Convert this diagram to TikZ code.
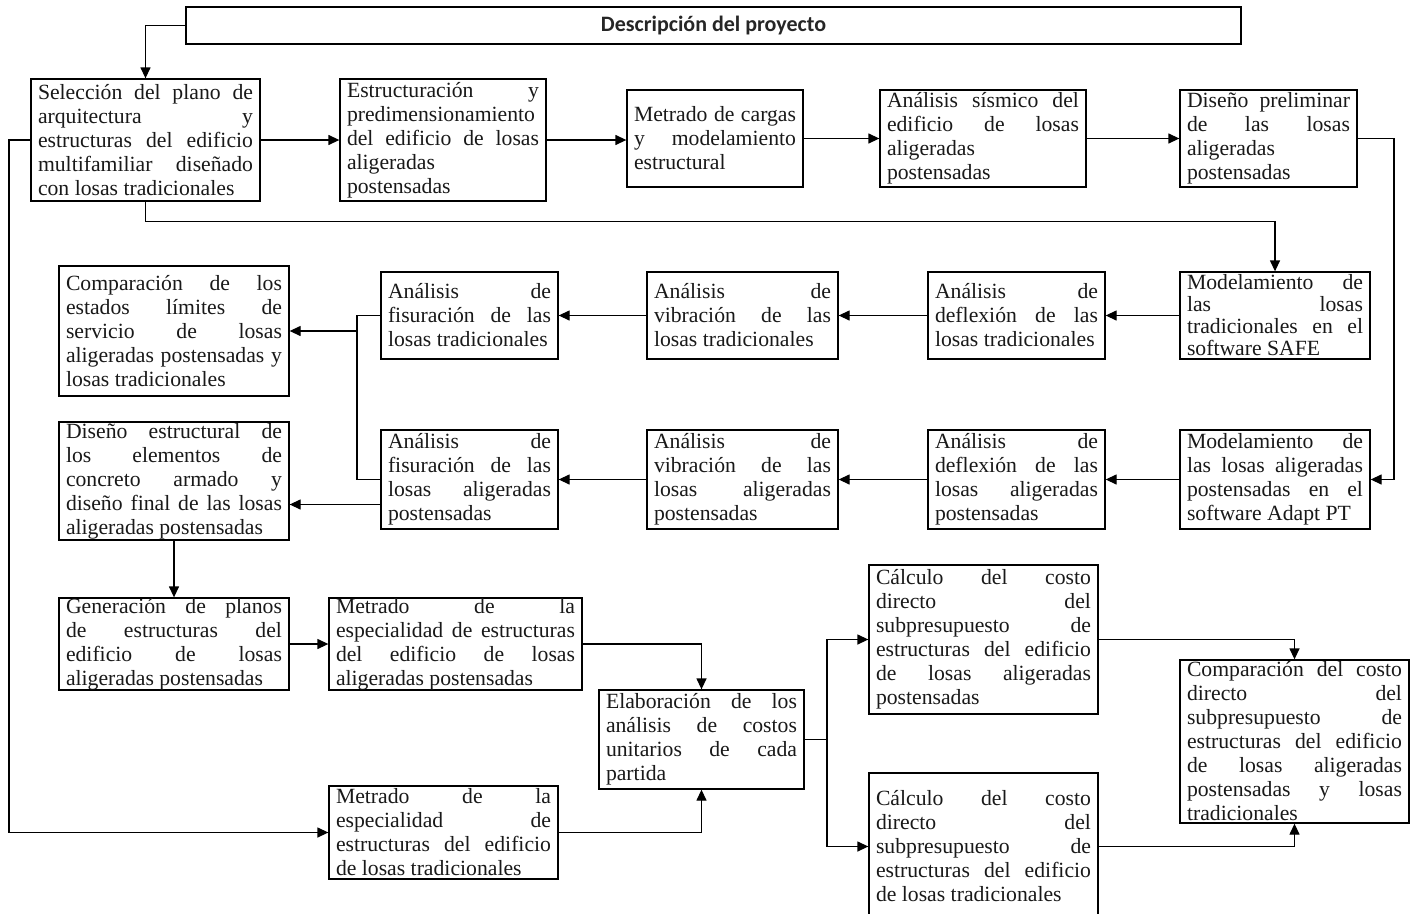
\documentclass[tikz,border=0pt]{standalone}
\usepackage{fontspec}
\setmainfont{Liberation Serif}
\newfontfamily\titlefont{Carlito}
\usetikzlibrary{arrows.meta,calc}
\newcommand\bxfont{\fontsize{21.7}{24}\selectfont\hyphenpenalty=10000 \tolerance=10000 \hbadness=10000 }
\newcommand\bxfonttight{\fontsize{21.7}{22}\selectfont\hyphenpenalty=10000 \tolerance=10000 \hbadness=10000 }
\begin{document}
\begin{tikzpicture}[x=1pt,y=-1pt,
  bx/.style={draw, line width=1.3pt, inner xsep=7pt, inner ysep=0pt, align=justify, font=\bxfont, anchor=center, text=black!90},
  arr/.style={line width=1.3pt, -{Triangle[length=11pt,width=10pt]}},
  ln/.style={line width=1.3pt}]
\fill[white] (0,0) rectangle (1419,913);
\useasboundingbox (0,0) rectangle (1419,913);

\node[draw, line width=1.3pt, minimum width=1055pt, minimum height=37pt, inner sep=0pt, font=\titlefont\bfseries\fontsize{22}{24}\selectfont, text=black!85] (T) at (713.5,25.5) {Descripción del proyecto};

% Row 1
\node[bx, minimum width=229pt, minimum height=122pt, text width=215pt] (B1) at (145.5,140) {Selección del plano de\linebreak arquitectura y\linebreak estructuras del edificio\linebreak multifamiliar diseñado\linebreak con losas tradicionales};
\node[bx, minimum width=206pt, minimum height=122pt, text width=192pt] (B2) at (443,140) {Estructuración y\linebreak predimensionamiento\linebreak del edificio de losas\linebreak aligeradas\newline postensadas};
\node[bx, minimum width=176pt, minimum height=97pt, text width=162pt] (B3) at (715,138.5) {Metrado de cargas\linebreak y modelamiento\linebreak estructural};
\node[bx, minimum width=206pt, minimum height=97pt, text width=192pt] (B4) at (983,138.5) {Análisis sísmico del\linebreak edificio de losas\linebreak aligeradas\newline postensadas};
\node[bx, minimum width=177pt, minimum height=97pt, text width=163pt] (B5) at (1268.5,138.5) {Diseño preliminar\linebreak de las losas\linebreak aligeradas\newline postensadas};

% Row 2
\node[bx, minimum width=230pt, minimum height=130pt, text width=216pt] (C1) at (174,331) {Comparación de los\linebreak estados límites de\linebreak servicio de losas\linebreak aligeradas postensadas y\linebreak losas tradicionales};
\node[bx, minimum width=177pt, minimum height=87pt, text width=163pt] (F1) at (469.5,315.5) {Análisis de\linebreak fisuración de las\linebreak losas tradicionales};
\node[bx, minimum width=191pt, minimum height=87pt, text width=177pt] (V1) at (742.5,315.5) {Análisis de\linebreak vibración de las\linebreak losas tradicionales};
\node[bx, minimum width=177pt, minimum height=87pt, text width=163pt] (D1) at (1016.5,315.5) {Análisis de\linebreak deflexión de las\linebreak losas tradicionales};
\node[bx, font=\bxfonttight, minimum width=190pt, minimum height=87pt, text width=176pt] (M1) at (1275,315.5) {Modelamiento de\linebreak las losas\linebreak tradicionales en el\linebreak software SAFE};

% Row 3
\node[bx, minimum width=230pt, minimum height=118pt, text width=216pt] (C2) at (174,481) {Diseño estructural de\linebreak los elementos de\linebreak concreto armado y\linebreak diseño final de las losas\linebreak aligeradas postensadas};
\node[bx, minimum width=177pt, minimum height=99pt, text width=163pt] (F2) at (469.5,479.5) {Análisis de\linebreak fisuración de las\linebreak losas aligeradas\linebreak postensadas};
\node[bx, minimum width=191pt, minimum height=99pt, text width=177pt] (V2) at (742.5,479.5) {Análisis de\linebreak vibración de las\linebreak losas aligeradas\linebreak postensadas};
\node[bx, minimum width=177pt, minimum height=99pt, text width=163pt] (D2) at (1016.5,479.5) {Análisis de\linebreak deflexión de las\linebreak losas aligeradas\linebreak postensadas};
\node[bx, minimum width=190pt, minimum height=99pt, text width=176pt] (M2) at (1275,479.5) {Modelamiento de\linebreak las losas aligeradas\linebreak postensadas en el\linebreak software Adapt PT};

% Row 4
\node[bx, minimum width=230pt, minimum height=92pt, text width=216pt] (G) at (174,644) {Generación de planos\linebreak de estructuras del\linebreak edificio de losas\linebreak aligeradas postensadas};
\node[bx, minimum width=253pt, minimum height=92pt, text width=239pt] (MA) at (455.5,644) {Metrado de la\linebreak especialidad de estructuras\linebreak del edificio de losas\linebreak aligeradas postensadas};
\node[bx, minimum width=205pt, minimum height=99pt, text width=191pt] (E) at (701.5,739.5) {Elaboración de los\linebreak análisis de costos\linebreak unitarios de cada\linebreak partida};
\node[bx, minimum width=229pt, minimum height=93pt, text width=215pt] (MT) at (443.5,832.5) {Metrado de la\linebreak especialidad de\linebreak estructuras del edificio\linebreak de losas tradicionales};
\node[bx, minimum width=229pt, minimum height=149pt, text width=215pt] (CA) at (983.5,639.5) {Cálculo del costo\linebreak directo del\linebreak subpresupuesto de\linebreak estructuras del edificio\linebreak de losas aligeradas\linebreak postensadas};
\node[bx, minimum width=229pt, minimum height=147pt, text width=215pt] (CT) at (983.5,846.5) {Cálculo del costo\linebreak directo del\linebreak subpresupuesto de\linebreak estructuras del edificio\linebreak de losas tradicionales};
\node[bx, minimum width=229pt, minimum height=163pt, text width=215pt] (CC) at (1294.5,741.5) {Comparación del costo\linebreak directo del\linebreak subpresupuesto de\linebreak estructuras del edificio\linebreak de losas aligeradas\linebreak postensadas y losas\linebreak tradicionales};

% helper coordinates
\coordinate (rr) at (1394,0);
\coordinate (ll) at (9,0);
\coordinate (jf) at (357,0);
\coordinate (je) at (827,0);

% connectors
\draw[arr] (T.west) -| (B1.north);
\draw[arr] (B1.east) -- (B1.east -| B2.west);
\draw[arr] (B2.east) -- (B2.east -| B3.west);
\draw[arr] (B3.east) -- (B4.west);
\draw[arr] (B4.east) -- (B5.west);
\draw[arr] (B5.east) -- (B5.east -| rr) -- (M2.east -| rr) -- (M2.east);
\draw[arr] (B1.south) -- ++(0,20) -| (M1.north);
\draw[arr] (B1.west) -- (B1.west -| ll) -- (MT.west -| ll) -- (MT.west);

\draw[arr] (M1.west) -- (D1.east);
\draw[arr] (D1.west) -- (V1.east);
\draw[arr] (V1.west) -- (F1.east);
\draw[arr] (F1.west) -- (F1.west -| jf) -- (C1.east -| jf) -- (C1.east);
\draw[ln] (F2.west) -- (F2.west -| jf) -- (C1.east -| jf);

\draw[arr] (M2.west) -- (D2.east);
\draw[arr] (D2.west) -- (V2.east);
\draw[arr] (V2.west) -- (F2.east);
\draw[arr] ([yshift=-25pt]F2.west) -- ([yshift=-25pt]F2.west -| C2.east);

\draw[arr] (C2.south) -- (G.north);
\draw[arr] (G.east) -- (G.east -| MA.west);
\draw[arr] (MA.east) -| (E.north);
\draw[arr] (MT.east) -| (E.south);
\draw[ln] (E.east) -- (E.east -| je);
\draw[arr] (E.east -| je) |- (CA.west);
\draw[arr] (E.east -| je) |- (CT.west);
\draw[arr] (CA.east) -| (CC.north);
\draw[arr] (CT.east) -| (CC.south);
\end{tikzpicture}
\end{document}
